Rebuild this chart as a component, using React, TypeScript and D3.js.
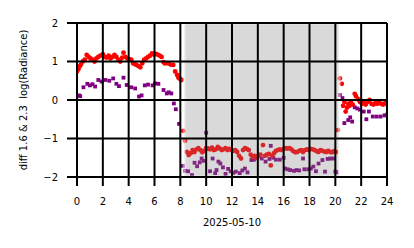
import React from 'react';
import * as d3 from 'd3';

// hours (UTC) and values
const redHours = [
  0.0, 0.1, 0.2, 0.3, 0.45, 0.6, 0.75, 0.9, 1.05, 1.2, 1.35, 1.5, 1.65, 1.8, 2.0, 2.15, 2.3, 2.45, 2.6, 2.75,
  2.9, 3.05, 3.2, 3.35, 3.5, 3.6, 3.75, 3.9, 4.05, 4.2, 4.35, 4.5, 4.6, 4.75, 4.9, 5.05, 5.2, 5.35, 5.5, 5.65,
  5.8, 5.95, 6.1, 6.25, 6.4, 6.55, 6.7, 6.8, 6.95, 7.1, 7.25, 7.45, 7.6, 7.75, 7.85, 8.0, 8.1, 8.23, 8.36, 8.5,
  8.65, 8.8, 8.95, 9.1, 9.25, 9.4, 9.55, 9.7, 9.85, 10.0, 10.15, 10.3, 10.45, 10.6, 10.75, 10.9, 11.05, 11.2, 11.35, 11.5,
  11.65, 11.8, 11.95, 12.1, 12.25, 12.4, 12.55, 12.7, 12.85, 13.0, 13.15, 13.3, 13.45, 13.6, 13.75, 13.9, 14.05, 14.2, 14.4, 14.55,
  14.7, 14.85, 15.0, 15.1, 15.25, 15.4, 15.55, 15.7, 15.85, 16.0, 16.15, 16.3, 16.45, 16.6, 16.75, 16.9, 17.05, 17.2, 17.35, 17.5,
  17.65, 17.8, 17.95, 18.1, 18.25, 18.4, 18.55, 18.7, 18.85, 19.0, 19.15, 19.3, 19.45, 19.6, 19.75, 19.9, 20.05, 20.2, 20.35, 20.5,
  20.6, 20.7, 20.8, 20.9, 21.0, 21.1, 21.2, 21.35, 21.5, 21.6, 21.75, 21.9, 22.05, 22.2, 22.35, 22.5, 22.65, 22.8, 22.95, 23.1,
  23.25, 23.4, 23.55, 23.7, 23.85, 24.0,
];
const redValues = [
  0.74, 0.8, 0.87, 0.92, 1.0, 1.05, 1.17, 1.12, 1.08, 1.05, 1.0, 1.08, 1.12, 1.15, 1.19, 1.12, 1.1, 1.15, 1.08, 1.12,
  1.17, 1.12, 1.05, 1.0, 1.1, 1.23, 1.12, 1.08, 1.06, 1.05, 0.95, 0.93, 0.91, 0.88, 0.85, 0.95, 1.05, 1.08, 1.12, 1.15,
  1.21, 1.18, 1.2, 1.18, 1.15, 1.12, 0.98, 0.95, 0.96, 0.95, 0.92, 0.91, 0.74, 0.65, 0.58, 0.54, 0.52, -0.8, -1.06, -1.35,
  -1.43, -1.38, -1.3, -1.35, -1.28, -1.25, -1.3, -1.36, -1.32, -1.25, -1.27, -1.28, -1.24, -1.3, -1.28, -1.22, -1.26, -1.3, -1.28, -1.25,
  -1.3, -1.27, -1.3, -1.32, -1.3, -1.35, -1.45, -1.52, -1.3, -1.25, -1.27, -1.3, -1.42, -1.48, -1.45, -1.5, -1.45, -1.42, -1.17, -1.45,
  -1.42, -1.4, -1.7, -1.45, -1.38, -1.32, -1.3, -1.28, -1.3, -1.27, -1.25, -1.26, -1.25, -1.28, -1.33, -1.36, -1.35, -1.32, -1.3, -1.35,
  -1.3, -1.28, -1.3, -1.27, -1.28, -1.3, -1.33, -1.35, -1.3, -1.32, -1.34, -1.35, -1.32, -1.35, -1.36, -1.33, -1.35, -0.78, 0.56, 0.42,
  -0.15, -0.05, -0.3, -0.2, -0.1, -0.15, -0.05, -0.12, 0.16, 0.1, 0.02, -0.05, -0.1, -0.08, -0.12, -0.05, 0.0, -0.1, -0.12, -0.08,
  -0.1, -0.05, -0.1, -0.12, -0.08, -0.1,
];

const purpleHours = [
  0.15, 0.25, 0.5, 0.8, 1.0, 1.2, 1.4, 1.65, 1.9, 2.2, 2.5, 2.8, 3.05, 3.25, 3.6, 3.85, 4.2, 4.5, 4.8, 5.0,
  5.25, 5.5, 5.85, 6.05, 6.3, 6.7, 6.95, 7.1, 7.3, 7.5, 7.65, 7.9, 8.2, 8.35, 8.6, 8.9, 9.1, 9.3, 9.5, 9.65,
  9.8, 10.0, 10.1, 10.3, 10.5, 10.7, 10.8, 10.95, 11.1, 11.3, 11.5, 11.7, 11.9, 12.1, 12.3, 12.6, 12.8, 13.0, 13.2, 13.5,
  13.7, 14.0, 14.3, 14.6, 14.9, 15.0, 15.2, 15.4, 15.7, 16.0, 16.1, 16.3, 16.5, 16.8, 17.0, 17.2, 17.5, 17.6, 17.9, 18.1,
  18.3, 18.5, 18.7, 19.0, 19.2, 19.4, 19.6, 19.8, 20.0, 20.1, 20.35, 20.55, 20.7, 21.0, 21.15, 21.3, 21.5, 21.7, 21.9, 22.2,
  22.4, 22.6, 22.9, 23.2, 23.5, 23.8, 24.0,
];
const purpleValues = [
  0.12, 0.1, 0.33, 0.42, 0.38, 0.41, 0.35, 0.52, 0.48, 0.52, 0.5, 0.56, 0.42, 0.36, 0.58, 0.39, 0.33, 0.3, 0.09, 0.12,
  0.38, 0.4, 0.38, 0.43, 0.42, 0.26, 0.17, 0.2, 0.17, -0.09, -0.24, -0.62, -1.71, -1.84, -1.85, -1.95, -1.63, -1.72, -1.62, -1.52,
  -1.58, -0.85, -1.25, -1.85, -1.52, -1.9, -1.82, -1.6, -1.65, -1.75, -1.92, -1.79, -1.85, -1.89, -1.86, -1.9, -1.83, -1.78, -1.88, -1.56,
  -1.55, -1.45, -1.52, -1.6, -1.53, -1.19, -1.5, -1.55, -1.55, -1.5, -1.78, -1.8, -1.82, -1.84, -1.82, -1.83, -1.52, -1.8, -1.8, -1.78,
  -1.73, -1.85, -1.65, -1.56, -1.86, -1.53, -1.52, -1.52, -1.86, -1.88, 0.13, 0.05, -0.6, -0.52, -0.45, -0.56, -0.19, -0.22, -0.25, -0.3,
  -0.5, -0.3, -0.43, -0.43, -0.43, -0.4, -0.38,
];

const xTicks = [0, 2, 4, 6, 8, 10, 12, 14, 16, 18, 20, 22, 24];
const yTicks = [-2, -1, 0, 1, 2];
const nightSpan = [8.3, 20.3];

const width = 414;
const height = 248;
const margin = { top: 23, right: 27, bottom: 71, left: 77 };

export default function App() {
  const x = d3.scaleLinear().domain([0, 24]).range([margin.left, width - margin.right]);
  const y = d3.scaleLinear().domain([-2, 2]).range([height - margin.bottom, margin.top]);
  const font = 'DejaVu Sans, sans-serif';

  const red = redHours.map((h, i) => ({ h, v: redValues[i] }));
  const purple = purpleHours.map((h, i) => ({ h, v: purpleValues[i] }));
  const sq = 3.8;

  return (
    <svg width={width} height={height} style={{ position: 'absolute', left: 0, top: 0, background: '#fff' }}>
      <defs>
        <clipPath id="plot">
          <rect x={x(0)} y={y(2)} width={x(24) - x(0)} height={y(-2) - y(2)} />
        </clipPath>
      </defs>
      <g clipPath="url(#plot)">
        {purple.map((d, i) => (
          <rect key={'p' + i} x={x(d.h) - sq / 2} y={y(d.v) - sq / 2} width={sq} height={sq} fill="#800080" />
        ))}
        {red.map((d, i) => (
          <circle key={'r' + i} cx={x(d.h)} cy={y(d.v)} r={2.4} fill="#ff0000" />
        ))}
        <rect
          x={x(nightSpan[0])}
          y={y(2)}
          width={x(nightSpan[1]) - x(nightSpan[0])}
          height={y(-2) - y(2)}
          fill="#808080"
          fillOpacity={0.3}
          stroke="#fff"
          strokeOpacity={0.45}
          strokeWidth={3}
        />
      </g>
      {/* grid + ticks */}
      {xTicks.map((t) => (
        <line key={'gx' + t} x1={x(t)} x2={x(t)} y1={y(2)} y2={y(-2) + 9} stroke="#000" strokeWidth={2} />
      ))}
      {yTicks.map((t) => (
        <line key={'gy' + t} x1={x(0) - 10} x2={x(24)} y1={y(t)} y2={y(t)} stroke="#000" strokeWidth={2} />
      ))}
      {xTicks.map((t) => (
        <text key={'tx' + t} x={x(t)} y={205} textAnchor="middle" fontSize={10} fontFamily={font} fill="#000">
          {t}
        </text>
      ))}
      {yTicks.map((t) => (
        <text key={'ty' + t} x={58} y={y(t) + 3.6} textAnchor="end" fontSize={10} fontFamily={font} fill="#000">
          {t < 0 ? '\u2212' + Math.abs(t) : t}
        </text>
      ))}
      <text x={(x(0) + x(24)) / 2} y={226} textAnchor="middle" fontSize={10} fontFamily={font} fill="#000">
        2025-05-10
      </text>
      <text
        transform={`translate(27, ${(y(2) + y(-2)) / 2}) rotate(-90)`}
        textAnchor="middle"
        fontSize={10}
        fontFamily={font}
        fill="#000"
        style={{ whiteSpace: 'pre' }}
      >
        {'diff 1.6 & 2.3  log(Radiance)'}
      </text>
    </svg>
  );
}
